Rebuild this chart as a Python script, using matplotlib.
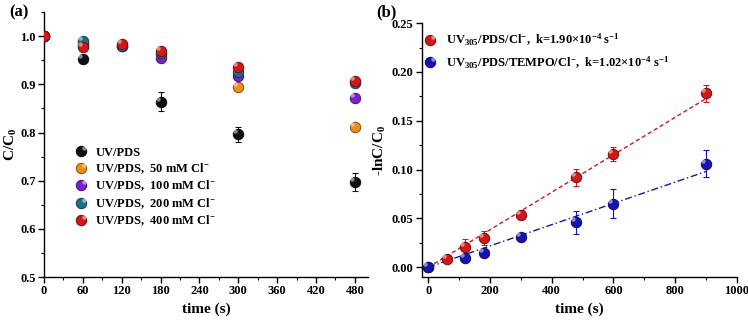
import numpy as np
import matplotlib
matplotlib.use('Agg')
import matplotlib.pyplot as plt
from matplotlib.path import Path
from matplotlib.lines import Line2D
from matplotlib.legend_handler import HandlerTuple
from matplotlib.ticker import MultipleLocator
from matplotlib.colors import to_rgb

plt.rcParams['font.family'] = ['Liberation Serif', 'Noto Sans CJK SC']
plt.rcParams['font.weight'] = 'bold'
plt.rcParams['mathtext.fontset'] = 'custom'
plt.rcParams['mathtext.rm'] = 'Liberation Serif:bold'
plt.rcParams['mathtext.it'] = 'Liberation Serif:bold'
plt.rcParams['mathtext.bf'] = 'Liberation Serif:bold'

# panel (a) data
t_a = [0, 60, 120, 180, 300, 480]
uv_pds = [1.0, 0.952, None, 0.864, 0.796, 0.698]
uv_pds_err = [0, 0.008, 0, 0.020, 0.015, 0.019]
cl_50 = [1.0, 0.984, 0.980, 0.962, 0.894, 0.811]
cl_100 = [1.0, 0.984, 0.980, 0.955, 0.918, 0.872]
cl_200 = [1.0, 0.991, 0.979, 0.965, 0.925, 0.903]
cl_400 = [1.0, 0.978, 0.983, 0.970, 0.937, 0.906]
labels_a = ['UV/PDS', 'UV/PDS,  50 mM Cl$^{-}$', 'UV/PDS,  100 mM Cl$^{-}$',
            'UV/PDS,  200 mM Cl$^{-}$', 'UV/PDS,  400 mM Cl$^{-}$']
colors_a = ['#111111', '#f08c1a', '#7a1fd0', '#1d6f86', '#d01818']

# panel (b) data
t_b = [0, 60, 120, 180, 300, 480, 600, 900]
red_b = [0.0, 0.008, 0.021, 0.030, 0.054, 0.092, 0.116, 0.178]
red_err = [0, 0.002, 0.008, 0.007, 0.005, 0.009, 0.007, 0.009]
t_blue = [0, 120, 180, 300, 480, 600, 900]
blue_b = [0.0, 0.009, 0.015, 0.031, 0.046, 0.065, 0.106]
blue_err = [0, 0.002, 0.002, 0.002, 0.012, 0.015, 0.014]
fit_t = [0, 900]
red_slope = 1.92e-4
blue_slope = 1.09e-4
labels_b = ['UV$_{305}$/PDS/Cl$^{-}$,  k=1.90×10$^{-4}$ s$^{-1}$',
            'UV$_{305}$/PDS/TEMPO/Cl$^{-}$,  k=1.02×10$^{-4}$ s$^{-1}$']
colors_b = ['#d01818', '#1414b4']

# small off-centre circle used as a highlight so markers look like balls
_c = Path.unit_circle()
hl_marker = Path(_c.vertices * 0.22 + np.array([-0.3, 0.3]), _c.codes)

MS = 7.5


def darker(color, f=0.55):
    return tuple(v * f for v in to_rgb(color))


def ball(ax, x, y, color, err=None, zorder=3):
    x = np.asarray(x, dtype=float)
    y = np.asarray([np.nan if v is None else v for v in y], dtype=float)
    if err is not None:
        ax.errorbar(x, y, yerr=err, fmt='none', ecolor=color, elinewidth=0.8,
                    capsize=2.5, capthick=0.8, zorder=zorder)
    ax.plot(x, y, 'o', ms=MS, color=color, mec=darker(color), mew=0.7, ls='none', zorder=zorder)
    ax.plot(x, y, marker=hl_marker, ms=MS, color='white', alpha=0.5, mew=0,
            ls='none', zorder=zorder)


def ball_handle(color):
    return (Line2D([], [], marker='o', ms=MS, color=color, mec=darker(color), mew=0.7, ls='none'),
            Line2D([], [], marker=hl_marker, ms=MS, color='white', alpha=0.5, mew=0, ls='none'))


def style_axes(ax):
    for s in ['top', 'right']:
        ax.spines[s].set_visible(False)
    for s in ['left', 'bottom']:
        ax.spines[s].set_linewidth(1.0)
    ax.tick_params(direction='out', length=4, width=1, labelsize=9, pad=2)
    ax.tick_params(which='minor', direction='out', length=2.5, width=0.8)
    for lab in ax.get_xticklabels() + ax.get_yticklabels():
        lab.set_fontweight('bold')


fig = plt.figure(figsize=(7.48, 3.23), dpi=100)
ax1 = fig.add_axes([0.0588, 0.1424, 0.433, 0.820])
ax2 = fig.add_axes([0.5642, 0.1424, 0.4211, 0.786])

# (a)
series_a = [uv_pds, cl_50, cl_100, cl_200, cl_400]
for i, (vals, col) in enumerate(zip(series_a, colors_a)):
    ball(ax1, t_a, vals, col, err=uv_pds_err if i == 0 else None, zorder=3 + i)
ax1.set_xlim(0, 500)
ax1.set_ylim(0.5, 1.05)
ax1.set_xticks([0, 60, 120, 180, 240, 300, 360, 420, 480])
ax1.xaxis.set_minor_locator(MultipleLocator(30))
ax1.set_yticks([0.5, 0.6, 0.7, 0.8, 0.9, 1.0])
ax1.yaxis.set_minor_locator(MultipleLocator(0.05))
style_axes(ax1)
ax1.set_xlabel('time (s)', fontsize=11, fontweight='bold', labelpad=4)
ax1.set_ylabel('C/C$_0$', fontsize=11, fontweight='bold', labelpad=1)
ax1.legend([ball_handle(c) for c in colors_a], labels_a, loc='upper left',
           bbox_to_anchor=(0.07, 0.535), frameon=False,
           handlelength=1.0, handletextpad=0.4, labelspacing=0.22,
           handler_map={tuple: HandlerTuple(ndivide=None, pad=0)},
           prop={'weight': 'bold', 'size': 9})
fig.text(0.012, 0.985, '(a)', fontsize=12, fontweight='bold', va='top')

# (b)
ax2.plot(fit_t, [red_slope * t for t in fit_t], ls=(0, (3, 2)), color=colors_b[0], lw=1.0, zorder=2)
ax2.plot(fit_t, [blue_slope * t for t in fit_t], ls=(0, (5, 2, 1, 2)), color=colors_b[1], lw=1.0, zorder=2)
ball(ax2, t_b, red_b, colors_b[0], err=red_err, zorder=4)
ball(ax2, t_blue, blue_b, colors_b[1], err=blue_err, zorder=5)
ax2.set_xlim(-20, 1000)
ax2.set_ylim(-0.01, 0.25)
ax2.set_xticks([0, 200, 400, 600, 800, 1000])
ax2.xaxis.set_minor_locator(MultipleLocator(100))
ax2.set_yticks([0.0, 0.05, 0.10, 0.15, 0.20, 0.25])
ax2.set_yticklabels(['0.00', '0.05', '0.10', '0.15', '0.20', '0.25'])
ax2.yaxis.set_minor_locator(MultipleLocator(0.025))
style_axes(ax2)
ax2.set_xlabel('time (s)', fontsize=11, fontweight='bold', labelpad=4)
ax2.set_ylabel('-lnC/C$_0$', fontsize=11, fontweight='bold', labelpad=3)
ax2.legend([ball_handle(c) for c in colors_b], labels_b, loc='upper left',
           bbox_to_anchor=(-0.02, 1.01), frameon=False,
           handlelength=1.0, handletextpad=0.5, labelspacing=0.5,
           handler_map={tuple: HandlerTuple(ndivide=None, pad=0)},
           prop={'weight': 'bold', 'size': 9})
fig.text(0.503, 0.985, '(b)', fontsize=12, fontweight='bold', va='top')

fig.savefig('out.png', dpi=100)
